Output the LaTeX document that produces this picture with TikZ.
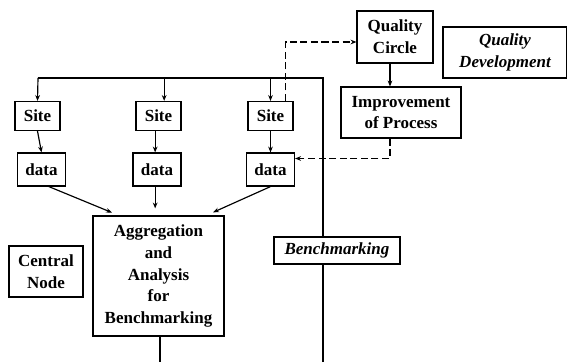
\documentclass[tikz,border=0pt]{standalone}
\usepackage{fontspec}
\setmainfont{Liberation Serif}
\usetikzlibrary{arrows.meta, positioning}

\begin{document}
\begin{tikzpicture}[
    x=0.03cm, y=-0.03cm,
    >={Stealth[length=5pt, width=4pt]},
    box/.style={draw, line width=1pt, inner sep=0pt, align=center,
        font=\fontsize{14.5}{18.7}\selectfont\bfseries},
    sitebox/.style={box, minimum width=1.35cm, minimum height=0.87cm},
    databox/.style={box, minimum width=1.44cm, minimum height=0.99cm},
    labelbox/.style={box, fill=white, font=\fontsize{14.5}{18.7}\selectfont\bfseries\itshape},
    link/.style={line width=1pt},
    feedback/.style={line width=1.2pt, dash pattern=on 6pt off 3pt}
]
\useasboundingbox (0,0) rectangle (567,362);

% --- Sites and data ---
\node[sitebox] (s1) at (37.5,116) {Site};
\node[sitebox] (s2) at (158.5,116) {Site};
\node[sitebox] (s3) at (270.5,116) {Site};
\node[databox] (d1) at (41.5,169.5) {data};
\node[databox] (d2) at (157,169.5) {data};
\node[databox] (d3) at (270.5,169.5) {data};

% --- Central node ---
\node[box, line width=1.6pt, minimum width=3.93cm, minimum height=3.6cm] (agg) at (158.5,276)
    {Aggregation\\and\\Analysis\\for\\Benchmarking};
\node[box, minimum width=2.22cm, minimum height=1.53cm] (cn) at (46,271.5) {Central\\Node};

% --- Quality loop ---
\node[box, minimum width=2.28cm, minimum height=1.56cm] (qc) at (395,37) {Quality\\Circle};
\node[box, minimum width=3.6cm, minimum height=1.53cm] (imp) at (401,112.5) {Improvement\\of Process};
\node[labelbox, minimum width=3.72cm, minimum height=1.53cm] (qd) at (505,52.5) {Quality\\Development};

% --- Bus lines ---
\coordinate (busL) at (38,78);
\coordinate (busR) at (323,78);
\coordinate (botR) at (323,362);
\coordinate (botA) at (160,362);
\draw[link] (botR) -- (busR) -- (busL);
\draw[link, ->] (busL) -- (s1.north);
\draw[link, ->] ([xshift=0.17cm]s2.north |- busR) -- ([xshift=0.17cm]s2.north);
\draw[link, ->] (s3.north |- busR) -- (s3.north);
\draw[link] (agg.south -| botA) -- (botA);

\node[labelbox, minimum width=3.78cm, minimum height=0.81cm] (bm) at (337,250.5) {Benchmarking};

% --- Site to data to aggregation ---
\draw[link, ->] (s1.south) -- (d1.south |- d1.north);
\draw[link, ->] ([xshift=-0.1cm]s2.south) -- ([xshift=-0.1cm]s2.south |- d2.north);
\draw[link, ->] (s3.south) -- (d3.north);
\draw[link, ->, shorten >=0.2cm] ([xshift=0.22cm]d1.south) -- ([xshift=-1.215cm]agg.north);
\draw[link, ->, shorten >=0.2cm] ([xshift=-0.1cm]agg.north |- d2.south) -- ([xshift=-0.1cm]agg.north);
\draw[link, ->, shorten >=0.2cm] (d3.south) -- ([xshift=1.455cm]agg.north);

% --- Feedback ---
\draw[feedback, ->] ([xshift=0.45cm]s3.north) |- ([yshift=-0.15cm]qc.west);
\draw[link, ->] ([xshift=-0.15cm]qc.south) -- ([xshift=-0.15cm]qc.south |- imp.north);
\draw[feedback, ->] ([xshift=-0.33cm]imp.south) |- ([yshift=0.33cm]d3.east);

\end{tikzpicture}
\end{document}
